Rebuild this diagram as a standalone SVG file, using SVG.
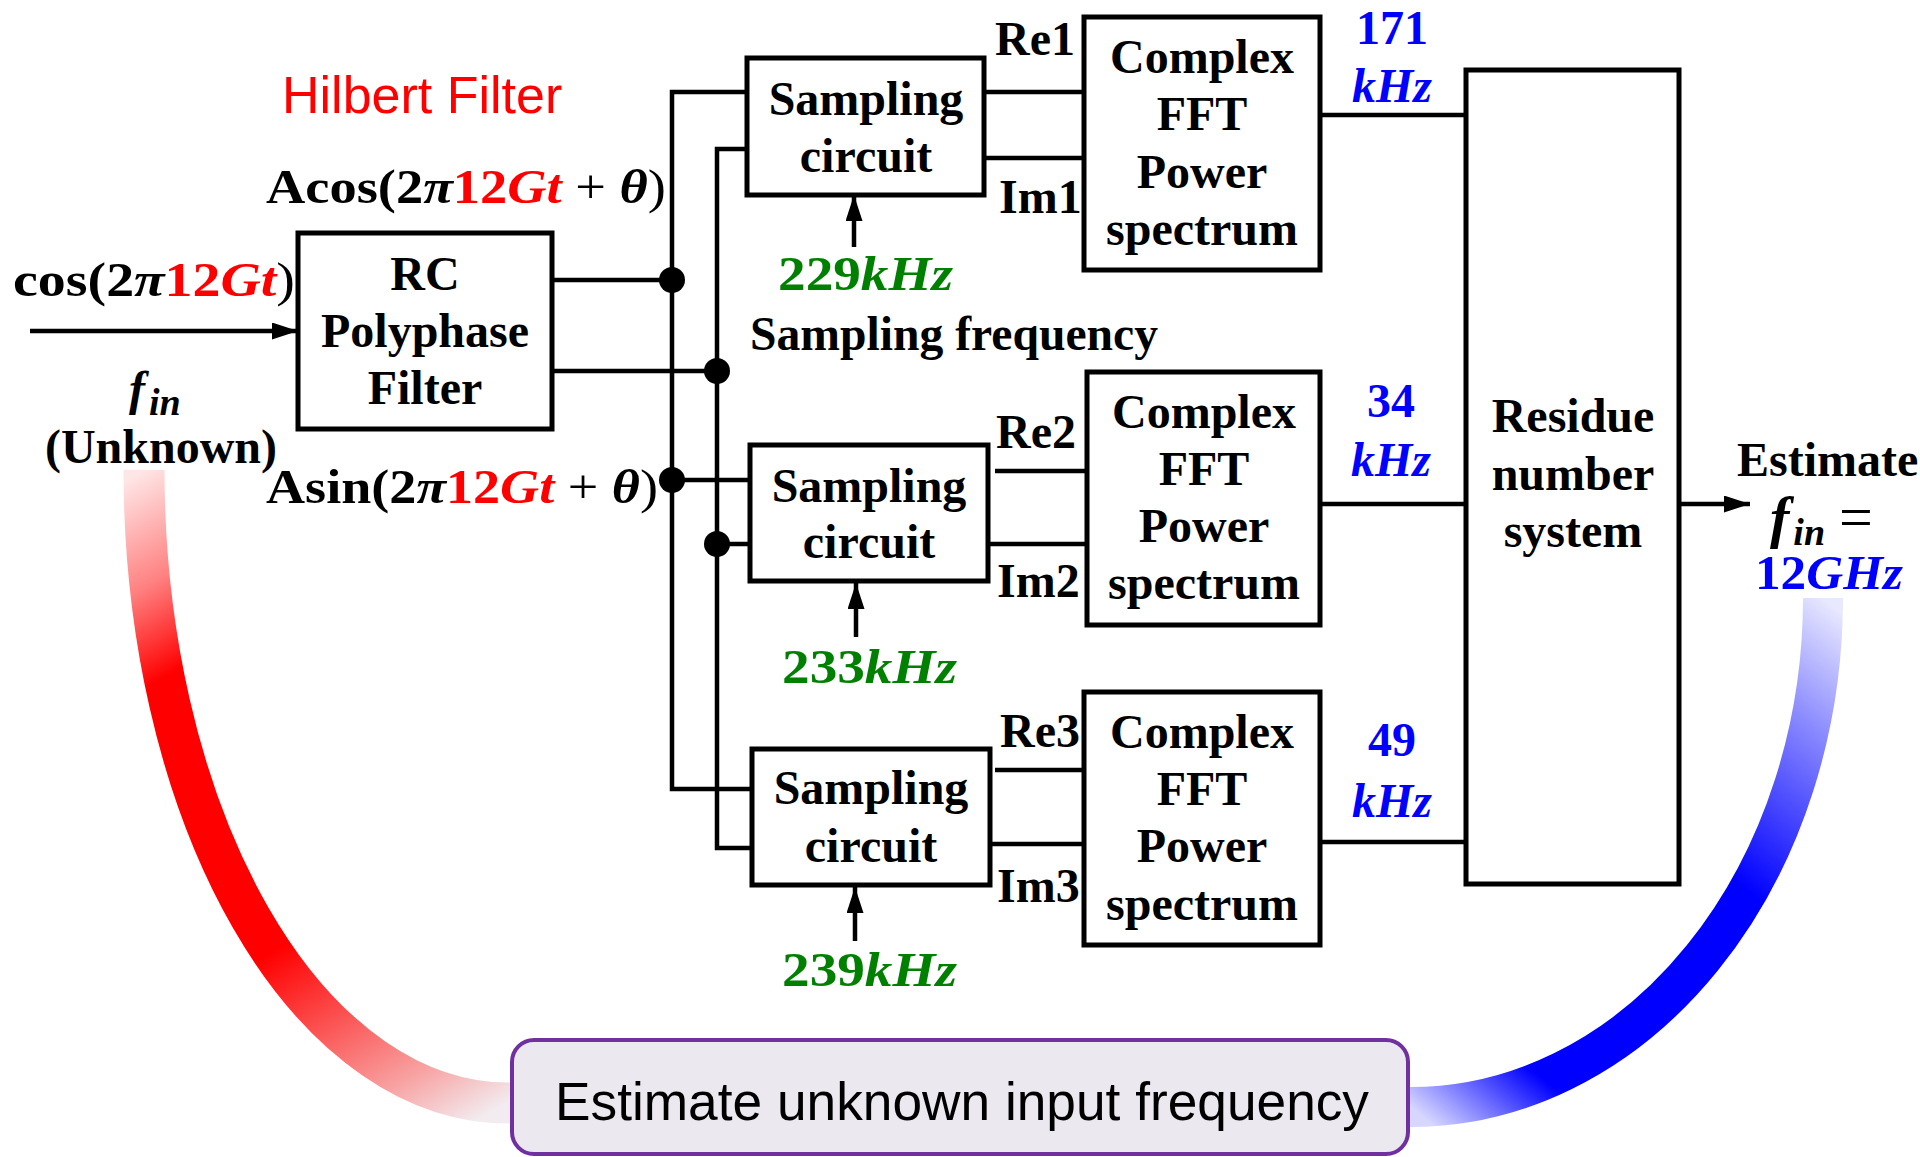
<svg xmlns="http://www.w3.org/2000/svg" width="1920" height="1157" viewBox="0 0 1920 1157">
<defs>
<style>
.box{fill:#fff;stroke:#000;stroke-width:5}
.wire{stroke:#000;stroke-width:4.5;fill:none}
.dot{fill:#000}
.t{font-family:"Liberation Serif","Times New Roman",serif;font-weight:bold;font-size:48px;fill:#000}
.c{text-anchor:middle}
.i{font-style:italic}
.n{font-weight:normal}
.red{fill:#FF0000}
.blue{fill:#0000FF}
.green{fill:#008000}
.sans{font-family:"Liberation Sans",Arial,sans-serif;font-weight:normal}
</style>
<marker id="arrow" markerUnits="userSpaceOnUse" markerWidth="28" markerHeight="18" refX="26" refY="8.5" orient="auto">
<path d="M0,0 L26,8.5 L0,17 Z" fill="#000"/>
</marker>
<linearGradient id="redGrad" gradientUnits="userSpaceOnUse" x1="144" y1="470" x2="508" y2="1103">
<stop offset="0" stop-color="#FFE6E6"/>
<stop offset="0.14" stop-color="#FF8080"/>
<stop offset="0.26" stop-color="#FF0000"/>
<stop offset="0.66" stop-color="#FF0000"/>
<stop offset="0.9" stop-color="#F8A0A0"/>
<stop offset="1" stop-color="#F2ECF0"/>
</linearGradient>
<linearGradient id="blueGrad" gradientUnits="userSpaceOnUse" x1="1411" y1="1107" x2="1823" y2="598">
<stop offset="0" stop-color="#D6D6FF"/>
<stop offset="0.16" stop-color="#0000FF"/>
<stop offset="0.58" stop-color="#0000FF"/>
<stop offset="0.84" stop-color="#8C8CFF"/>
<stop offset="1" stop-color="#E8E8FF"/>
</linearGradient>
</defs>
<rect width="1920" height="1157" fill="#fff"/>

<g id="feedback-arcs">
<path d="M144,470 A364,633 0 0 0 508,1103 L520,1103" fill="none" stroke="url(#redGrad)" stroke-width="41"/>
<path d="M1400,1107 L1411,1107 A412,509 0 0 0 1823,598" fill="none" stroke="url(#blueGrad)" stroke-width="40"/>
</g>

<g id="connectors">
<line class="wire" x1="30" y1="331" x2="298" y2="331" marker-end="url(#arrow)"/>
<line class="wire" x1="552" y1="280" x2="672" y2="280"/>
<line class="wire" x1="552" y1="371" x2="717" y2="371"/>
<polyline class="wire" points="747,92 672,92 672,789 752,789"/>
<polyline class="wire" points="747,149 717,149 717,848 752,848"/>
<line class="wire" x1="672" y1="480" x2="750" y2="480"/>
<line class="wire" x1="717" y1="544" x2="750" y2="544"/>
<line class="wire" x1="984" y1="92" x2="1084" y2="92"/>
<line class="wire" x1="984" y1="158" x2="1084" y2="158"/>
<line class="wire" x1="995" y1="471" x2="1087" y2="471"/>
<line class="wire" x1="988" y1="544" x2="1087" y2="544"/>
<line class="wire" x1="995" y1="770" x2="1084" y2="770"/>
<line class="wire" x1="990" y1="844" x2="1084" y2="844"/>
<line class="wire" x1="1320" y1="115" x2="1466" y2="115"/>
<line class="wire" x1="1320" y1="504" x2="1466" y2="504"/>
<line class="wire" x1="1320" y1="842" x2="1466" y2="842"/>
<line class="wire" x1="1679" y1="504" x2="1750" y2="504" marker-end="url(#arrow)"/>
<line class="wire" x1="854" y1="247" x2="854" y2="195" marker-end="url(#arrow)"/>
<line class="wire" x1="856" y1="637" x2="856" y2="583" marker-end="url(#arrow)"/>
<line class="wire" x1="855" y1="941" x2="855" y2="887" marker-end="url(#arrow)"/>
<circle class="dot" cx="672" cy="280" r="13"/>
<circle class="dot" cx="717" cy="371" r="13"/>
<circle class="dot" cx="672" cy="480" r="13"/>
<circle class="dot" cx="717" cy="544" r="13"/>
</g>

<g id="rc-filter">
<rect class="box" x="298" y="233" width="254" height="196"/>
<text class="t c" x="425" y="290">RC</text>
<text class="t c" x="425" y="347">Polyphase</text>
<text class="t c" x="425" y="404">Filter</text>
</g>

<g id="sampling-1">
<rect class="box" x="747" y="58" width="237" height="137"/>
<text class="t c" x="866" y="115">Sampling</text>
<text class="t c" x="866" y="172">circuit</text>
</g>
<g id="sampling-2">
<rect class="box" x="750" y="445" width="238" height="136"/>
<text class="t c" x="869" y="502">Sampling</text>
<text class="t c" x="869" y="558">circuit</text>
</g>
<g id="sampling-3">
<rect class="box" x="752" y="749" width="238" height="136"/>
<text class="t c" x="871" y="804">Sampling</text>
<text class="t c" x="871" y="862">circuit</text>
</g>

<g id="fft-1">
<rect class="box" x="1084" y="17" width="236" height="253"/>
<text class="t c" x="1202" y="73">Complex</text>
<text class="t c" x="1202" y="130">FFT</text>
<text class="t c" x="1202" y="188">Power</text>
<text class="t c" x="1202" y="245">spectrum</text>
</g>
<g id="fft-2">
<rect class="box" x="1087" y="372" width="233" height="253"/>
<text class="t c" x="1204" y="428">Complex</text>
<text class="t c" x="1204" y="485">FFT</text>
<text class="t c" x="1204" y="542">Power</text>
<text class="t c" x="1204" y="599">spectrum</text>
</g>
<g id="fft-3">
<rect class="box" x="1084" y="692" width="236" height="253"/>
<text class="t c" x="1202" y="748">Complex</text>
<text class="t c" x="1202" y="805">FFT</text>
<text class="t c" x="1202" y="862">Power</text>
<text class="t c" x="1202" y="920">spectrum</text>
</g>

<g id="rns">
<rect class="box" x="1466" y="70" width="213" height="814"/>
<text class="t c" x="1573" y="432">Residue</text>
<text class="t c" x="1573" y="490">number</text>
<text class="t c" x="1573" y="547">system</text>
</g>

<g id="estimate-box">
<rect x="512" y="1040" width="896" height="114" rx="22" fill="#EBE8F0" stroke="#7030A0" stroke-width="4"/>
<text class="sans" x="555" y="1120" font-size="53" textLength="814" lengthAdjust="spacingAndGlyphs">Estimate unknown input frequency</text>
</g>

<g id="labels">
<text class="sans red" x="282" y="113" font-size="52">Hilbert Filter</text>
<text class="t" x="266" y="203" font-size="50" textLength="400" lengthAdjust="spacingAndGlyphs">Acos(2<tspan class="i">π</tspan><tspan class="red">12<tspan class="i">Gt</tspan></tspan><tspan class="n"> + </tspan><tspan class="i">θ</tspan><tspan class="n">)</tspan></text>
<text class="t" x="13" y="296" font-size="50" textLength="282" lengthAdjust="spacingAndGlyphs">cos(2<tspan class="i">π</tspan><tspan class="red">12<tspan class="i">Gt</tspan></tspan><tspan class="n">)</tspan></text>
<text class="t" x="266" y="503" font-size="50" textLength="392" lengthAdjust="spacingAndGlyphs">Asin(2<tspan class="i">π</tspan><tspan class="red">12<tspan class="i">Gt</tspan></tspan><tspan class="n"> + </tspan><tspan class="i">θ</tspan><tspan class="n">)</tspan></text>
<text class="t i" x="129" y="405" font-size="58">f<tspan font-size="38" dy="10" dx="4">in</tspan></text>
<text class="t c" x="161" y="463">(Unknown)</text>
<text class="t" x="995" y="55">Re1</text>
<text class="t" x="999" y="213">Im1</text>
<text class="t" x="996" y="448">Re2</text>
<text class="t" x="997" y="597">Im2</text>
<text class="t" x="1000" y="747">Re3</text>
<text class="t" x="997" y="902">Im3</text>
<text class="t green" x="778" y="290" textLength="175" lengthAdjust="spacingAndGlyphs">229<tspan class="i">kHz</tspan></text>
<text class="t green" x="782" y="683" textLength="175" lengthAdjust="spacingAndGlyphs">233<tspan class="i">kHz</tspan></text>
<text class="t green" x="782" y="986" textLength="175" lengthAdjust="spacingAndGlyphs">239<tspan class="i">kHz</tspan></text>
<text class="t" x="750" y="350" textLength="408" lengthAdjust="spacingAndGlyphs">Sampling frequency</text>
<text class="t c blue" x="1392" y="44">171</text>
<text class="t c blue i" x="1392" y="102">kHz</text>
<text class="t c blue" x="1391" y="417">34</text>
<text class="t c blue i" x="1391" y="476">kHz</text>
<text class="t c blue" x="1392" y="756">49</text>
<text class="t c blue i" x="1392" y="817">kHz</text>
<text class="t" x="1737" y="476">Estimate</text>
<text class="t" x="1770" y="537"><tspan class="i" font-size="58">f</tspan><tspan class="i" font-size="38" dx="4" dy="8">in</tspan><tspan class="n" font-size="60" dx="14" dy="-8">=</tspan></text>
<text class="t blue" x="1755" y="589" textLength="148" lengthAdjust="spacingAndGlyphs">12<tspan class="i">GHz</tspan></text>
</g>
</svg>
